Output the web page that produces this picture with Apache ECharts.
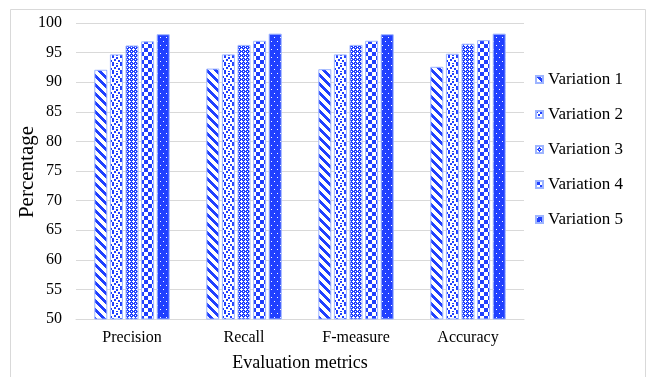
<!DOCTYPE html>
<html>
<head>
<meta charset="utf-8">
<script src="https://cdn.jsdelivr.net/npm/echarts@6/dist/echarts.min.js"></script>
<style>
  html, body { margin: 0; padding: 0; background: #fff; }
  #chart { width: 651px; height: 377px; }
</style>
</head>
<body>
<div id="chart"></div>
<script>
// Data
const categories = ['Precision', 'Recall', 'F-measure', 'Accuracy'];
const seriesNames = ['Variation 1', 'Variation 2', 'Variation 3', 'Variation 4', 'Variation 5'];
const variation1 = [92.1, 92.3, 92.2, 92.6];
const variation2 = [94.7, 94.7, 94.7, 94.8];
const variation3 = [96.2, 96.3, 96.3, 96.5];
const variation4 = [96.9, 97.0, 97.0, 97.1];
const variation5 = [98.1, 98.2, 98.1, 98.2];
const seriesValues = [variation1, variation2, variation3, variation4, variation5];

const BLUE = '#2040ff';
const EDGE = '#9db4ff';
const FONT = 'Liberation Serif';

// Build a repeating pixel tile; fn(x, y) returns true where the pixel is blue
function tile(w, h, fn) {
  const c = document.createElement('canvas');
  c.width = w; c.height = h;
  const ctx = c.getContext('2d');
  ctx.fillStyle = '#ffffff';
  ctx.fillRect(0, 0, w, h);
  ctx.fillStyle = BLUE;
  for (let y = 0; y < h; y++) {
    for (let x = 0; x < w; x++) {
      if (fn(x, y)) ctx.fillRect(x, y, 1, 1);
    }
  }
  return { image: c, repeat: 'repeat' };
}

const confettiDots = [[0,0],[4,1],[2,3],[6,4],[0,6],[4,7]];
const weaveGaps = [[1,0],[0,1],[1,1],[2,1],[1,2],[3,3]];
const patterns = [
  // diagonal stripes
  tile(9, 9, (x, y) => ((x - y + 18) % 9) < 4),
  // scattered small squares
  tile(8, 8, (x, y) => confettiDots.some(([dx, dy]) => (x === dx || x === dx + 1) && (y === dy || y === dy + 1))),
  // fine diamond weave
  tile(4, 4, (x, y) => !weaveGaps.some(([gx, gy]) => gx === x && gy === y)),
  // checkerboard
  tile(8, 8, (x, y) => ((Math.floor(x / 4) + Math.floor(y / 4)) % 2) === 0),
  // solid with small light dots
  tile(6, 8, (x, y) => !((x === 1 && y === 1) || (x === 4 && y === 5)))
];

const chart = echarts.init(document.getElementById('chart'), null, { renderer: 'canvas' });

const option = {
  backgroundColor: '#ffffff',
  animation: false,
  textStyle: { fontFamily: FONT },
  graphic: [{
    type: 'rect',
    shape: { x: 10.5, y: 9.5, width: 635, height: 380 },
    style: { fill: 'none', stroke: '#d9d9d9', lineWidth: 1 },
    silent: true
  }, {
    // vertical axis title
    type: 'text',
    x: 27,
    y: 172,
    rotation: Math.PI / 2,
    style: {
      text: 'Percentage',
      font: '21px "Liberation Serif"',
      fill: '#000',
      align: 'center',
      verticalAlign: 'middle'
    },
    silent: true
  }],
  grid: { left: 76, right: 127, top: 23, bottom: 55 },
  legend: {
    orient: 'vertical',
    left: 530,
    top: 66,
    itemWidth: 7,
    itemHeight: 7,
    itemGap: 18,
    icon: 'rect',
    data: seriesNames,
    textStyle: { fontFamily: FONT, fontSize: 17, color: '#000', lineHeight: 17 }
  },
  xAxis: {
    type: 'category',
    data: categories,
    name: 'Evaluation metrics',
    nameLocation: 'middle',
    nameGap: 35,
    nameTextStyle: { fontFamily: FONT, fontSize: 18, color: '#000' },
    axisLine: { lineStyle: { color: '#d9d9d9', width: 1 } },
    axisTick: { show: false },
    axisLabel: { fontFamily: FONT, fontSize: 16, color: '#000', margin: 11 }
  },
  yAxis: {
    type: 'value',
    min: 50,
    max: 100,
    interval: 5,
    axisLine: { show: false },
    axisTick: { show: false },
    axisLabel: { fontFamily: FONT, fontSize: 16, color: '#000', margin: 14 },
    splitLine: { lineStyle: { color: '#d9d9d9', width: 1 } }
  },
  series: seriesNames.map((name, i) => ({
    name: name,
    type: 'bar',
    data: seriesValues[i],
    barWidth: 13,
    barGap: '20%',
    itemStyle: { color: patterns[i], borderColor: EDGE, borderWidth: 1 }
  }))
};

chart.setOption(option);
</script>
</body>
</html>
